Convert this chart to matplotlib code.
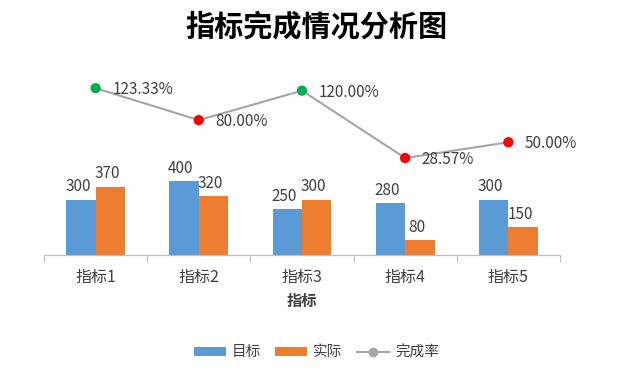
import numpy as np
import matplotlib
matplotlib.use('Agg')
import matplotlib.pyplot as plt
from matplotlib.patches import Patch
from matplotlib.lines import Line2D

plt.rcParams['font.family'] = ['Noto Sans CJK SC', 'DejaVu Sans']

categories = ['指标1', '指标2', '指标3', '指标4', '指标5']
target = [300, 400, 250, 280, 300]
actual = [370, 320, 300, 80, 150]
rate = [123.33, 80.00, 120.00, 28.57, 50.00]

blue = '#5B9BD5'
orange = '#ED7D31'
gray = '#A5A5A5'
txt = '#404040'

fig = plt.figure(figsize=(6.39, 3.71), dpi=100)
ax1 = fig.add_axes([44 / 639, 116 / 371, 516 / 639, 185 / 371])
ax2 = ax1.twinx()

x = np.arange(len(categories))
w = 0.285
b1 = ax1.bar(x - w / 2, target, w, color=blue, zorder=2)
b2 = ax1.bar(x + w / 2, actual, w, color=orange, zorder=2)

for rect, v in zip(b1, target):
    ax1.annotate(str(v), (rect.get_x() + rect.get_width() / 2 - 0.03, v),
                 xytext=(0, 3), textcoords='offset points', ha='center', va='bottom',
                 fontsize=11, color=txt)
for rect, v in zip(b2, actual):
    ax1.annotate(str(v), (rect.get_x() + rect.get_width() / 2 - 0.03, v),
                 xytext=(0, 3), textcoords='offset points', ha='center', va='bottom',
                 fontsize=11, color=txt)

ax2.plot(x, rate, color=gray, linewidth=1.5, zorder=3)
mcolors = ['#00B050' if r >= 100 else '#FF0000' for r in rate]
ax2.scatter(x, rate, s=55, c=mcolors, zorder=4, edgecolors='none')
for xi, r in zip(x, rate):
    ax2.annotate('%.2f%%' % r, (xi, r), xytext=(12, -1), textcoords='offset points',
                 ha='left', va='center', fontsize=11, color=txt)

ax1.set_xlim(-0.5, len(categories) - 0.5)
ax1.set_ylim(0, 1000)
ax2.set_ylim(-103, 148)

ax1.set_xticks(np.arange(-0.5, len(categories), 1.0))
ax1.set_xticklabels([])
ax1.set_xticks(x, minor=True)
ax1.set_xticklabels(categories, minor=True, fontsize=11.5, color=txt)
ax1.tick_params(axis='x', which='major', length=5, color='#BFBFBF', direction='out')
ax1.tick_params(axis='x', which='minor', length=0, pad=10)
ax1.set_yticks([])
ax2.set_yticks([])
for a in (ax1, ax2):
    for s in ('top', 'left', 'right'):
        a.spines[s].set_visible(False)
    a.spines['bottom'].set_color('#BFBFBF')
ax1.set_xlabel('指标', fontsize=11, fontweight='bold', color=txt, labelpad=5)

fig.suptitle('指标完成情况分析图', fontsize=21, fontweight='bold', y=0.97, x=0.495)

handles = [Patch(facecolor=blue), Patch(facecolor=orange),
           Line2D([0], [0], color=gray, marker='o', markersize=6, linewidth=1.5)]
fig.legend(handles, ['目标', '实际', '完成率'], loc='center', bbox_to_anchor=(0.495, 0.05),
           ncol=3, frameon=False, fontsize=10.5, handlelength=2.2, handleheight=0.55,
           columnspacing=1.0, handletextpad=0.4, labelcolor=txt)

fig.savefig('out.png', dpi=100)
